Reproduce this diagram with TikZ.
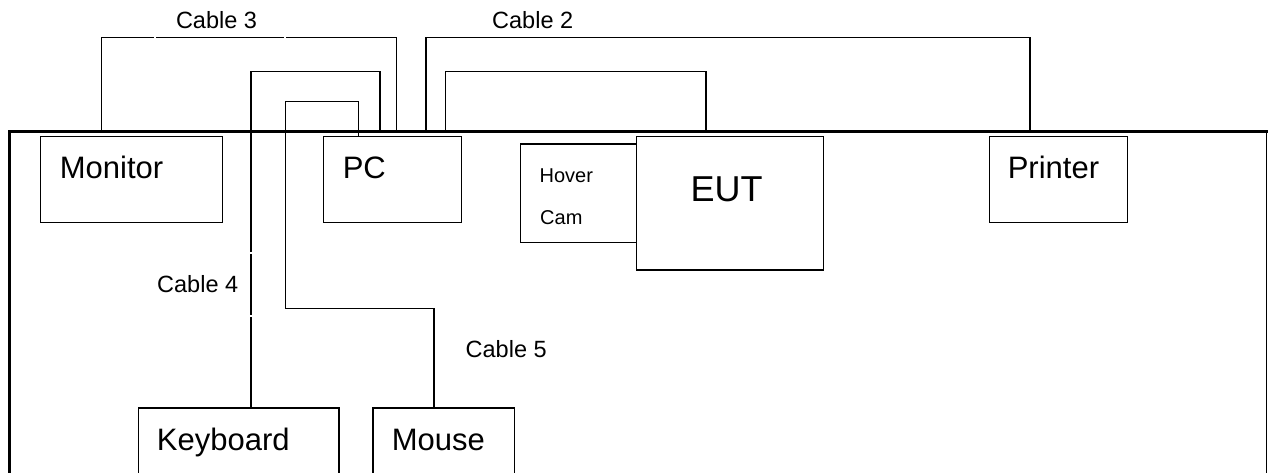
\documentclass[tikz,border=0pt]{standalone}
\usepackage{fontspec}
\setmainfont{Liberation Sans}
\begin{document}
\begin{tikzpicture}[x=1pt,y=-1pt,
  box/.style={draw=black,line width=1.4pt,rectangle,inner sep=0pt,anchor=north west},
  cable/.style={draw=black,line width=1.3pt},
  gapmark/.style={draw=white,line width=1.6pt},
  big/.style={inner sep=0pt,anchor=base west,font=\fontsize{31}{31}\selectfont},
  lbl/.style={inner sep=0pt,anchor=base west,font=\fontsize{23.5}{23.5}\selectfont},
  small/.style={inner sep=0pt,anchor=base west,font=\fontsize{20}{20}\selectfont},
  huge/.style={inner sep=0pt,anchor=base west,font=\fontsize{36}{36}\selectfont}]
\clip (0,0) rectangle (1268,473);
\fill[white] (0,0) rectangle (1268,473);
% table
\draw[line width=3pt] (8,132) -- (1268,132);
\draw[line width=2.5pt] (9.5,132) -- (9.5,480);
\draw[line width=1.2pt] (1266.8,132) -- (1266.8,480);
% boxes
\node[box,minimum width=182pt,minimum height=86pt] (mon) at (40,136) {};
\node[box,minimum width=138pt,minimum height=86pt] (pc) at (323,136) {};
\node[box,minimum width=116pt,minimum height=98.4pt] (hov) at (520,143.3) {};
\node[box,minimum width=187pt,minimum height=133.6pt] (eut) at (636,135.7) {};
\node[box,minimum width=138pt,minimum height=85.7pt] (prn) at (988.7,136) {};
\node[box,minimum width=200.6pt,minimum height=90pt] (kbd) at (137.7,407.3) {};
\node[box,minimum width=141.7pt,minimum height=90pt] (mou) at (372.3,407.3) {};
% texts
\node[big] (tmon) at (59.7,178.3) {Monitor};
\node[big] (tpc) at (342.6,178.3) {PC};
\node[big] (tprn) at (1007.6,178.3) {Printer};
\node[huge] (teut) at (690.5,201) {EUT};
\node[small] (thov) at (539.4,182.7) {Hover};
\node[small] (tcam) at (540,224.3) {Cam};
\node[big] (tkbd) at (156.7,450) {Keyboard};
\node[big] (tmou) at (391.7,450) {Mouse};
\node[lbl] (l3) at (175.8,28.3) {Cable 3};
\node[lbl] (l2) at (492,28.3) {Cable 2};
\node[lbl] (l4) at (157,292.3) {Cable 4};
\node[lbl] (l5) at (465.5,357.3) {Cable 5};
% cable end points on the table edge
\coordinate (c3a) at (101.7,132);
\coordinate (c3b) at (396.7,132);
\coordinate (c4b) at (380,132);
\coordinate (c2a) at (1030,132);
\coordinate (c2b) at (426,132);
\coordinate (cea) at (445.7,132);
\coordinate (ceb) at (706,132);
% cables
\draw[cable] (c3a) -- ++(0,-94.3) -| (c3b);
\draw[cable] (kbd.north west -| 251,0) -- (251,71.7) -| (c4b);
\draw[cable] (mou.north west -| 434,0) -- (434,308.3) -- (285.7,308.3) -- (285.7,101.7) -| (pc.north west -| 358.3,0);
\draw[cable] (c2a) -- ++(0,-94.3) -| (c2b);
\draw[cable] (cea) -- ++(0,-60.3) -| (ceb);
% small breaks in the lines
\draw[gapmark] (154,37.7) -- (156,37.7);
\draw[gapmark] (284,37.7) -- (286,37.7);
\draw[gapmark] (251,251.7) -- (251,253.7);
\draw[gapmark] (251,315) -- (251,317);
\end{tikzpicture}
\end{document}
